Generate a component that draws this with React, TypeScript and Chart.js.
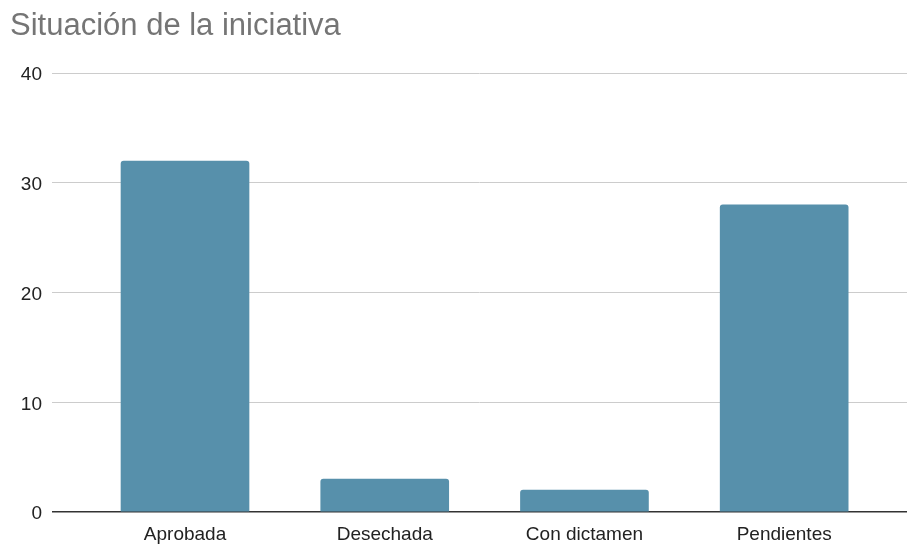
import React, { useEffect, useRef } from "react";
import { Chart, registerables } from "chart.js";

Chart.register(...registerables);

const categories = ["Aprobada", "Desechada", "Con dictamen", "Pendientes"];
const values = [32, 3, 2, 28];
const yTicks = [0, 10, 20, 30, 40];
const titleText = "Situación de la iniciativa";

export default function App() {
  const ref = useRef<HTMLCanvasElement | null>(null);
  useEffect(() => {
    if (!ref.current) return;
    const font = "'Liberation Sans', Arial, sans-serif";
    const chart = new Chart(ref.current, {
      type: "bar",
      data: {
        datasets: [
          {
            data: values.map((v, i) => ({ x: i, y: v })),
            backgroundColor: "#5790ab",
            borderRadius: { topLeft: 3, topRight: 3, bottomLeft: 0, bottomRight: 0 },
            borderSkipped: "start",
            barThickness: 128,
          },
        ],
      },
      options: {
        animation: false,
        responsive: false,
        maintainAspectRatio: false,
        layout: { padding: { left: 10, right: 0, top: 0, bottom: 0 } },
        plugins: {
          legend: { display: false },
          tooltip: { enabled: false },
          title: {
            display: true,
            text: titleText,
            align: "start",
            color: "#757575",
            font: { family: font, size: 31, weight: "normal" },
            padding: { top: 8, bottom: 28 },
          },
        },
        scales: {
          x: {
            type: "linear",
            offset: false,
            min: -0.666,
            max: 3.615,
            grid: { display: false, offset: false },
            border: { display: false },
            afterBuildTicks: (scale: any) => {
              scale.ticks = categories.map((_, i) => ({ value: i }));
            },
            afterFit: (scale: any) => {
              scale.height = 32;
            },
            ticks: {
              autoSkip: false,
              maxRotation: 0,
              padding: 3,
              color: "#222222",
              font: { family: font, size: 19 },
              callback: (v: any) => categories[Number(v)] ?? "",
            },
          },
          y: {
            min: 0,
            max: 40,
            afterBuildTicks: (scale: any) => {
              scale.ticks = yTicks.map((v) => ({ value: v }));
            },
            afterFit: (scale: any) => {
              scale.width = 42;
            },
            border: { display: false },
            grid: {
              drawTicks: false,
              color: (ctx: any) => (ctx.tick && ctx.tick.value === 0 ? "#333333" : "#cccccc"),
              lineWidth: (ctx: any) => (ctx.tick && ctx.tick.value === 0 ? 1.5 : 1),
            },
            ticks: {
              padding: 10,
              labelOffset: 2,
              color: "#222222",
              font: { family: font, size: 19 },
            },
          },
        },
      },
    });
    return () => chart.destroy();
  }, []);
  return (
    <div style={{ position: "absolute", left: 0, top: 0, width: 907, height: 544, background: "#fff" }}>
      <canvas ref={ref} width={907} height={544} style={{ display: "block" }} />
    </div>
  );
}
